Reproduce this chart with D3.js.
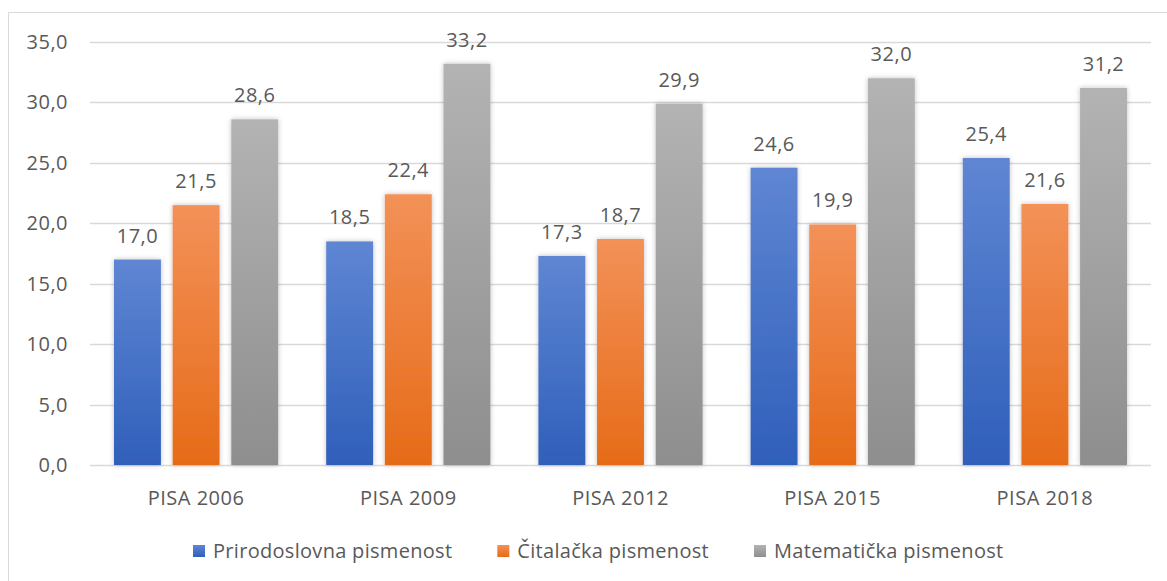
<!DOCTYPE html>
<html>
<head>
<meta charset="utf-8">
<script src="https://cdn.jsdelivr.net/npm/d3@7/dist/d3.min.js"></script>
<style>
  body { margin: 0; background: #fff; }
  text { font-family: "Open Sans", "Noto Sans", sans-serif; fill: #595959; letter-spacing: 0.5px; }
</style>
</head>
<body>
<div id="chart"></div>
<script>
var years = ["PISA 2006", "PISA 2009", "PISA 2012", "PISA 2015", "PISA 2018"];
var seriesNames = ["Prirodoslovna pismenost", "Čitalačka pismenost", "Matematička pismenost"];
var prirodoslovna = [17.0, 18.5, 17.3, 24.6, 25.4];
var citalacka = [21.5, 22.4, 18.7, 19.9, 21.6];
var matematicka = [28.6, 33.2, 29.9, 32.0, 31.2];
var yTicks = [0, 5, 10, 15, 20, 25, 30, 35];

var W = 1167, H = 581;
var margin = {top: 42, right: 16, bottom: 116, left: 90};
var width = W - margin.left - margin.right,
    height = H - margin.top - margin.bottom;

var svg = d3.select("#chart").append("svg")
    .attr("width", W)
    .attr("height", H);

var defs = svg.append("defs");
var grads = [["#5f86d3", "#2f5fba"], ["#f39158", "#e66b18"], ["#b3b3b3", "#8e8e8e"]];
grads.forEach(function(g, i) {
    var lg = defs.append("linearGradient").attr("id", "grad" + i)
        .attr("x1", 0).attr("y1", 0).attr("x2", 0).attr("y2", 1);
    lg.append("stop").attr("offset", "0%").attr("stop-color", g[0]);
    lg.append("stop").attr("offset", "100%").attr("stop-color", g[1]);
});
var shadow = defs.append("filter").attr("id", "shadow")
    .attr("x", "-30%").attr("y", "-10%").attr("width", "160%").attr("height", "120%");
shadow.append("feDropShadow").attr("dx", 0).attr("dy", 0)
    .attr("stdDeviation", 2.5).attr("flood-color", "#000").attr("flood-opacity", 0.25);

// outer frame
svg.append("path")
    .attr("d", "M8.5," + H + "V12.5H" + W)
    .attr("fill", "none").attr("stroke", "#d9d9d9").attr("stroke-width", 1);

var g = svg.append("g").attr("transform", "translate(" + margin.left + "," + margin.top + ")");

var x0 = d3.scaleBand().domain(years).range([0, width]).paddingInner(0).paddingOuter(0);
var x1 = d3.scaleBand().domain([0, 1, 2]).range([24, x0.bandwidth() - 24]).paddingInner(0.2);
var y = d3.scaleLinear().domain([0, 35]).range([height, 0]);

// gridlines
g.selectAll(".grid").data(yTicks).enter().append("line")
    .attr("x1", 0).attr("x2", width)
    .attr("y1", function(d) { return Math.round(y(d)) + 0.5; })
    .attr("y2", function(d) { return Math.round(y(d)) + 0.5; })
    .attr("stroke", "#d9d9d9").attr("stroke-width", 1.3);

// y axis labels
g.selectAll(".ylab").data(yTicks).enter().append("text")
    .attr("x", -22).attr("y", function(d) { return y(d); })
    .attr("dy", "0.35em").attr("text-anchor", "end")
    .style("font-size", "20px")
    .text(function(d) { return d.toFixed(1).replace(".", ","); });

var series = [prirodoslovna, citalacka, matematicka];
var rows = [];
years.forEach(function(yr, i) {
    series.forEach(function(s, k) {
        rows.push({year: yr, k: k, v: s[i]});
    });
});

g.selectAll(".bar").data(rows).enter().append("rect")
    .attr("x", function(d) { return x0(d.year) + x1(d.k); })
    .attr("y", function(d) { return y(d.v); })
    .attr("width", x1.bandwidth())
    .attr("height", function(d) { return height - y(d.v); })
    .attr("fill", function(d) { return "url(#grad" + d.k + ")"; })
    .attr("filter", "url(#shadow)");

g.selectAll(".vlab").data(rows).enter().append("text")
    .attr("x", function(d) { return x0(d.year) + x1(d.k) + x1.bandwidth() / 2; })
    .attr("y", function(d) { return y(d.v) - 17; })
    .attr("text-anchor", "middle")
    .style("font-size", "20px")
    .text(function(d) { return d.v.toFixed(1).replace(".", ","); });

// x labels
g.selectAll(".xlab").data(years).enter().append("text")
    .attr("x", function(d) { return x0(d) + x0.bandwidth() / 2; })
    .attr("y", height + 40)
    .attr("text-anchor", "middle")
    .style("font-size", "20px")
    .text(function(d) { return d; });

// legend
var lx = 193;
seriesNames.forEach(function(name, i) {
    var item = svg.append("g").attr("transform", "translate(" + lx + ",551)");
    item.append("rect").attr("x", 0).attr("y", -6).attr("width", 12).attr("height", 12)
        .attr("fill", "url(#grad" + i + ")");
    var t = item.append("text").attr("x", 20).attr("dy", "0.35em")
        .style("font-size", "20px").style("letter-spacing", "0.3px")
        .text(name);
    lx += 20 + t.node().getComputedTextLength() + 45;
});
</script>
</body>
</html>
